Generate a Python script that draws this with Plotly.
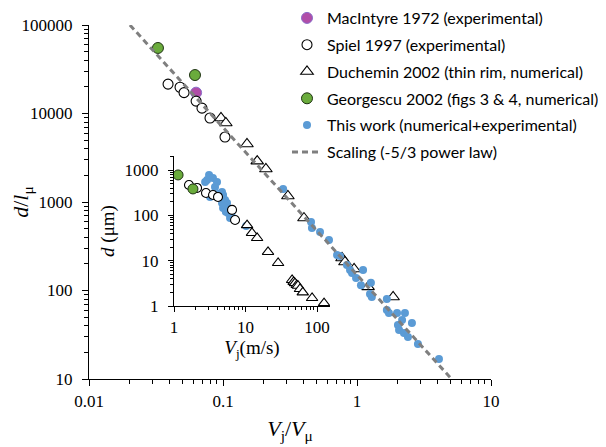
import plotly.graph_objects as go

# ---------------- main chart data (d/l_mu vs Vj/V_mu) ----------------
macintyre_x = [0.063]
macintyre_y = [17200]

spiel_x = [0.0389, 0.0478, 0.0512, 0.063, 0.0697, 0.080, 0.1035]
spiel_y = [21500, 19800, 17200, 13800, 11500, 8900, 5420]

duchemin_x = [0.0966, 0.105, 0.151, 0.180, 0.209, 0.305, 0.402, 0.773, 0.813, 0.951, 1.21, 1.86]
duchemin_y = [8900, 7810, 4520, 2900, 2360, 1170, 659, 233, 210, 175, 110, 84.5]

georgescu_x = [0.0327, 0.0618]
georgescu_y = [55000, 27200]

work_x = [0.281, 0.454, 0.461, 0.530, 0.618, 0.710, 0.746, 0.841, 0.887, 0.918,
          1.11, 0.984, 1.07, 1.27, 1.25, 1.29, 1.67, 1.67, 1.73, 1.99,
          2.28, 2.17, 2.57, 2.02, 2.06, 2.24, 2.40, 2.85, 4.09]
work_y = [1400, 594, 508, 458, 372, 252, 245, 194, 171, 158,
          171, 138, 115, 122, 91.3, 84.5, 80.2, 60.2, 55.7, 55.7,
          55.7, 46.4, 42.9, 40.7, 35.8, 33.1, 29.8, 24.9, 16.8]

# scaling law d/l = C * (Vj/Vmu)^(-5/3)
scaling_C = 150.0
scaling_exp = -5.0 / 3.0
scaling_x = [0.0202, 4.94]

# ---------------- inset data (d in um vs Vj in m/s) ----------------
in_georgescu_x = [1.14, 1.84]
in_georgescu_y = [780, 383]

in_spiel_x = [1.62, 2.10, 2.80, 3.51, 4.12, 6.47, 7.13]
in_spiel_y = [469, 403, 312, 282, 255, 132, 79]

in_macintyre_x = [4.0]
in_macintyre_y = [270]

in_duchemin_x = [10.5, 12.3, 14.5, 20.6, 28.5, 44.7, 47, 49, 52, 54, 57.6, 63, 85, 125]
in_duchemin_y = [61, 40.9, 31.7, 15.6, 8.9, 3.75, 3.4, 3.2, 2.9, 2.8, 2.37, 2.0, 1.5, 1.16]

in_work_x = [3.09, 2.9, 3.5, 3.99, 2.72, 3.74, 3.19, 4.69, 4.85, 5.17, 4.69, 4.85, 5.51,
             5.69, 6.47, 7.13, 5.17, 5.51, 6.07, 10.2, 4.3, 4.5, 5.0, 5.3, 6.2]
in_work_y = [780, 604, 670, 546, 546, 424, 255, 329, 282, 219, 188, 146, 132,
             113, 92, 79, 153, 188, 88, 58.3, 300, 240, 170, 120, 100]

main_xticks = [0.01, 0.1, 1, 10]
main_xtext = ["0.01", "0.1", "1", "10"]
main_yticks = [10, 100, 1000, 10000, 100000]
main_ytext = ["10", "100", "1000", "10000", "100000"]
in_xticks = [1, 10, 100]
in_xtext = ["1", "10", "100"]
in_yticks = [1, 10, 100, 1000]
in_ytext = ["1", "10", "100", "1000"]

# ---------------- styles ----------------
MAGENTA = "#B04DA8"
GREEN = "#6AAB3C"
BLUE = "#5B9BD5"
GRAY = "#7F7F7F"

serif = "Liberation Serif, Times New Roman, serif"

fig = go.Figure()

def add(x, y, name, marker, xa="x", ya="y", show=True, group=None):
    fig.add_trace(go.Scatter(x=x, y=y, mode="markers", name=name, marker=marker,
                             xaxis=xa, yaxis=ya, showlegend=show,
                             legendgroup=group or name, hoverinfo="x+y"))

m_mac = dict(color=MAGENTA, size=11, line=dict(color="#8A6CC8", width=1))
m_spiel = dict(color="white", size=10, symbol="circle", line=dict(color="black", width=1.1))
m_duch = dict(color="white", size=11, symbol="triangle-up", line=dict(color="black", width=1.1))
m_geo = dict(color=GREEN, size=11, line=dict(color="#1E3312", width=1))
m_work = dict(color=BLUE, size=8, line=dict(width=0))

# inset traces first (drawn underneath)
add(in_macintyre_x, in_macintyre_y, "MacIntyre 1972 (experimental)", dict(m_mac, size=6), "x2", "y2", False, "g1")
add(in_work_x, in_work_y, "This work (numerical+experimental)", m_work, "x2", "y2", False, "g5")
add(in_spiel_x, in_spiel_y, "Spiel 1997 (experimental)", dict(m_spiel, size=9), "x2", "y2", False, "g2")
add(in_duchemin_x, in_duchemin_y, "Duchemin 2002 (thin rim, numerical)", dict(m_duch, size=10), "x2", "y2", False, "g3")
add(in_georgescu_x, in_georgescu_y, "Georgescu 2002 (figs 3 & 4, numerical)", dict(m_geo, size=10), "x2", "y2", False, "g4")

# main traces
add(macintyre_x, macintyre_y, "MacIntyre 1972 (experimental)", m_mac, group="g1")
add(spiel_x, spiel_y, "Spiel 1997 (experimental)", m_spiel, group="g2")
add(duchemin_x, duchemin_y, "Duchemin 2002 (thin rim, numerical)", m_duch, group="g3")
add(georgescu_x, georgescu_y, "Georgescu 2002 (figs 3 & 4, numerical)", m_geo, group="g4")
add(work_x, work_y, "This work (numerical+experimental)", m_work, group="g5")

scaling_y = [scaling_C * v ** scaling_exp for v in scaling_x]
fig.add_trace(go.Scatter(x=scaling_x, y=scaling_y, mode="lines", name="Scaling (-5/3 power law)",
                         line=dict(color=GRAY, width=3, dash="6px,4px"), legendgroup="g6"))

# page offset of the figure inside the browser body (default body margin)
OFF = 8
W, H = 606, 447
L, R, T, B = 81, 123, 17, 76

def px_x(p):
    return (p - OFF - L) / (W - L - R)

def px_y(p):
    return (H - B - (p - OFF)) / (H - T - B)

axis_common = dict(showline=True, linecolor="black", linewidth=1.3, mirror=False,
                   showgrid=False, zeroline=False, ticks="outside", tickcolor="black",
                   tickwidth=1, automargin=False,
                   tickfont=dict(family=serif, size=17, color="black"))

fig.update_layout(
    width=W, height=H,
    margin=dict(l=L, r=R, t=T, b=B, autoexpand=False),
    paper_bgcolor="white", plot_bgcolor="rgba(0,0,0,0)",
    showlegend=True,
    legend=dict(x=px_x(287), y=px_y(1), xanchor="left", yanchor="top",
                font=dict(family="Lato, Open Sans, sans-serif", size=16, color="black"),
                bgcolor="rgba(0,0,0,0)", tracegroupgap=3, itemwidth=30),
    xaxis=dict(axis_common, type="log", range=[-2, 1], tickvals=main_xticks, ticktext=main_xtext,
               ticklen=6, minor=dict(ticks="outside", ticklen=4, tickcolor="black", dtick="D1"),
               title=dict(text="<i>V</i><sub>j</sub>/<i>V</i><sub>μ</sub>",
                          font=dict(family=serif, size=22, color="black"), standoff=11),
               domain=[0, 1]),
    yaxis=dict(axis_common, type="log", range=[1, 5], tickvals=main_yticks, ticktext=main_ytext,
               ticklen=6, minor=dict(ticks="outside", ticklen=4, tickcolor="black", dtick="D1"),
               ticklabelstandoff=6,
               title=dict(text="<i>d</i>/<i>l</i><sub>μ</sub>",
                          font=dict(family=serif, size=22, color="black"), standoff=0),
               domain=[0, 1]),
    xaxis2=dict(axis_common, type="log", range=[0, 2.18], tickvals=in_xticks, ticktext=in_xtext,
                ticklen=5, minor=dict(ticks="outside", ticklen=3, tickcolor="black", dtick="D1"),
                anchor="y2", domain=[px_x(174), px_x(330)],
                title=dict(text="<i>V</i><sub>j</sub>(m/s)",
                           font=dict(family=serif, size=19, color="black"), standoff=0)),
    yaxis2=dict(axis_common, type="log", range=[0, 3.31], tickvals=in_yticks, ticktext=in_ytext,
                ticklen=5, minor=dict(ticks="outside", ticklen=3, tickcolor="black", dtick="D1"),
                anchor="x2", domain=[px_y(306), px_y(156)], ticklabelstandoff=6,
                title=dict(text="<i>d</i> (μm)",
                           font=dict(family=serif, size=19, color="black"), standoff=4)),
)

fig.write_html("out.html")
